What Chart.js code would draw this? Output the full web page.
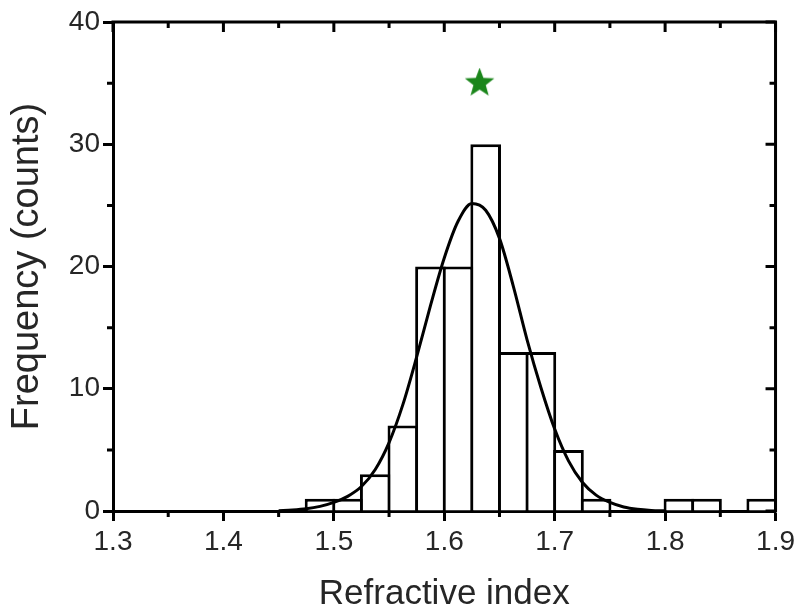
<!DOCTYPE html>
<html>
<head>
<meta charset="utf-8">
<title>Refractive index histogram</title>
<script src="https://cdn.jsdelivr.net/npm/chart.js@4.4.1/dist/chart.umd.min.js"></script>
<style>
    html, body { margin: 0; padding: 0; background: #fff; }
    #wrap { width: 799px; height: 612px; }
</style>
</head>
<body>
<div id="wrap"><canvas id="histChart" width="799" height="612"></canvas></div>
<script>
// =============================
// Data
// =============================

// histogram bins, width 0.025, given by their centre
const binCenters = [1.4875, 1.5125, 1.5375, 1.5625, 1.5875, 1.6125, 1.6375,
    1.6625, 1.6875, 1.7125, 1.7375, 1.8125, 1.8375, 1.8875];
const binCounts = [1, 1, 3, 7, 20, 20, 30, 13, 13, 5, 1, 1, 1, 1];

// gaussian fit curve
const fitX = [1.45, 1.4625, 1.475, 1.4875, 1.5, 1.5125, 1.525, 1.5375, 1.55, 1.5625,
    1.575, 1.5875, 1.6, 1.6125, 1.625, 1.6375, 1.65, 1.6625, 1.675, 1.6875,
    1.7, 1.7125, 1.725, 1.7375, 1.75, 1.7625, 1.775, 1.7875, 1.8];
const fitY = [0.03, 0.08, 0.18, 0.38, 0.7, 1.2, 2.0, 3.4, 5.6, 8.7,
    12.6, 16.8, 20.7, 23.7, 25.15, 24.6, 22.3, 18.4, 14.0, 10.1,
    6.7, 4.1, 2.35, 1.3, 0.7, 0.33, 0.14, 0.05, 0.02];

// green star marker
const starX = [1.632];
const starY = [35];

// axis ticks
const xMajorTicks = [1.3, 1.4, 1.5, 1.6, 1.7, 1.8, 1.9];
const xMinorTicks = [1.35, 1.45, 1.55, 1.65, 1.75, 1.85];
const yMajorTicks = [0, 10, 20, 30, 40];
const yMinorTicks = [5, 15, 25, 35];

const TEXT_COLOR = "#262626";
const FONT = "Liberation Sans, Arial, sans-serif";

// ============================================
// Filled star used as point style
// ============================================
function makeStar(size, color) {
    const c = document.createElement("canvas");
    c.width = size;
    c.height = size;
    const g = c.getContext("2d");
    const cx = size / 2, cy = size / 2;
    const outer = size / 2, inner = outer * 0.42;
    g.beginPath();
    for (let i = 0; i < 10; i++) {
        const r = i % 2 === 0 ? outer : inner;
        const a = -Math.PI / 2 + i * Math.PI / 5;
        const px = cx + r * Math.cos(a), py = cy + r * Math.sin(a);
        if (i === 0) g.moveTo(px, py); else g.lineTo(px, py);
    }
    g.closePath();
    g.fillStyle = color;
    g.fill();
    return c;
}

// ============================================
// Box frame + minor ticks (Origin style)
// ============================================
const frameTicks = {
    id: "frameTicks",
    afterDraw(chart) {
        const { ctx, chartArea: a, scales: { x, y } } = chart;
        ctx.save();
        ctx.strokeStyle = "#000";
        ctx.lineWidth = 3;
        ctx.lineCap = "butt";

        // top + right borders
        ctx.beginPath();
        ctx.moveTo(a.left - 1.5, a.top);
        ctx.lineTo(a.right, a.top);
        ctx.lineTo(a.right, a.bottom + 1.5);
        ctx.stroke();

        ctx.beginPath();
        // bottom minor (outward) and top major/minor (inward)
        xMinorTicks.forEach((v) => {
            const px = x.getPixelForValue(v);
            ctx.moveTo(px, a.bottom);
            ctx.lineTo(px, a.bottom + 6);
            ctx.moveTo(px, a.top);
            ctx.lineTo(px, a.top + 6);
        });
        xMajorTicks.forEach((v) => {
            const px = x.getPixelForValue(v);
            ctx.moveTo(px, a.top);
            ctx.lineTo(px, a.top + 10);
        });
        // left minor (outward) and right major/minor (inward)
        yMinorTicks.forEach((v) => {
            const py = y.getPixelForValue(v);
            ctx.moveTo(a.left, py);
            ctx.lineTo(a.left - 6, py);
            ctx.moveTo(a.right, py);
            ctx.lineTo(a.right - 6, py);
        });
        yMajorTicks.forEach((v) => {
            const py = y.getPixelForValue(v);
            ctx.moveTo(a.right, py);
            ctx.lineTo(a.right - 10, py);
        });
        ctx.stroke();
        ctx.restore();
    },
};

const ctx = document.getElementById("histChart").getContext("2d");

new Chart(ctx, {
    data: {
        datasets: [
            {
                type: "bar",
                label: "Counts",
                data: binCenters.map((v, i) => ({ x: v, y: binCounts[i] })),
                backgroundColor: "#fff",
                borderColor: "#000",
                borderWidth: 3,
                borderSkipped: "start",
                barPercentage: 1.11,
                categoryPercentage: 1,
                order: 3,
            },
            {
                type: "line",
                label: "Gauss fit",
                data: fitX.map((v, i) => ({ x: v, y: fitY[i] })),
                borderColor: "#000",
                borderWidth: 3,
                pointRadius: 0,
                fill: false,
                cubicInterpolationMode: "monotone",
                order: 2,
            },
            {
                type: "scatter",
                label: "Star",
                data: starX.map((v, i) => ({ x: v, y: starY[i] })),
                pointStyle: makeStar(31, "#1b861b"),
                pointRadius: 15,
                order: 1,
            },
        ],
    },
    options: {
        responsive: false,
        devicePixelRatio: 1,
        animation: false,
        layout: { padding: { left: 0, right: 21, top: 22, bottom: 0 } },
        plugins: {
            legend: { display: false },
            tooltip: { enabled: false },
        },
        scales: {
            x: {
                type: "linear",
                min: 1.3,
                max: 1.9,
                offset: false,
                afterBuildTicks: (s) => { s.ticks = xMajorTicks.map((v) => ({ value: v })); },
                afterFit: (s) => { s.height = 101; },
                ticks: {
                    autoSkip: false,
                    maxRotation: 0,
                    padding: 4,
                    color: TEXT_COLOR,
                    font: { family: FONT, size: 28 },
                    callback: (v) => Number(v).toFixed(1),
                },
                grid: {
                    offset: false,
                    drawOnChartArea: false,
                    drawTicks: true,
                    tickLength: 10,
                    tickWidth: 3,
                    tickColor: "#000",
                },
                border: { color: "#000", width: 3 },
                title: {
                    display: true,
                    text: "Refractive index",
                    color: TEXT_COLOR,
                    font: { family: FONT, size: 35, lineHeight: 1 },
                    padding: { top: 0, bottom: 0 },
                },
            },
            y: {
                type: "linear",
                min: 0,
                max: 40,
                afterBuildTicks: (s) => { s.ticks = yMajorTicks.map((v) => ({ value: v })); },
                afterFit: (s) => { s.width = 113; },
                ticks: {
                    padding: 3,
                    color: TEXT_COLOR,
                    font: { family: FONT, size: 28 },
                },
                grid: {
                    drawOnChartArea: false,
                    drawTicks: true,
                    tickLength: 10,
                    tickWidth: 3,
                    tickColor: "#000",
                },
                border: { color: "#000", width: 3 },
                title: {
                    display: true,
                    text: "Frequency (counts)",
                    color: TEXT_COLOR,
                    font: { family: FONT, size: 38, lineHeight: 1 },
                    padding: { top: 9, bottom: 0 },
                },
            },
        },
    },
    plugins: [frameTicks],
});
</script>
</body>
</html>
